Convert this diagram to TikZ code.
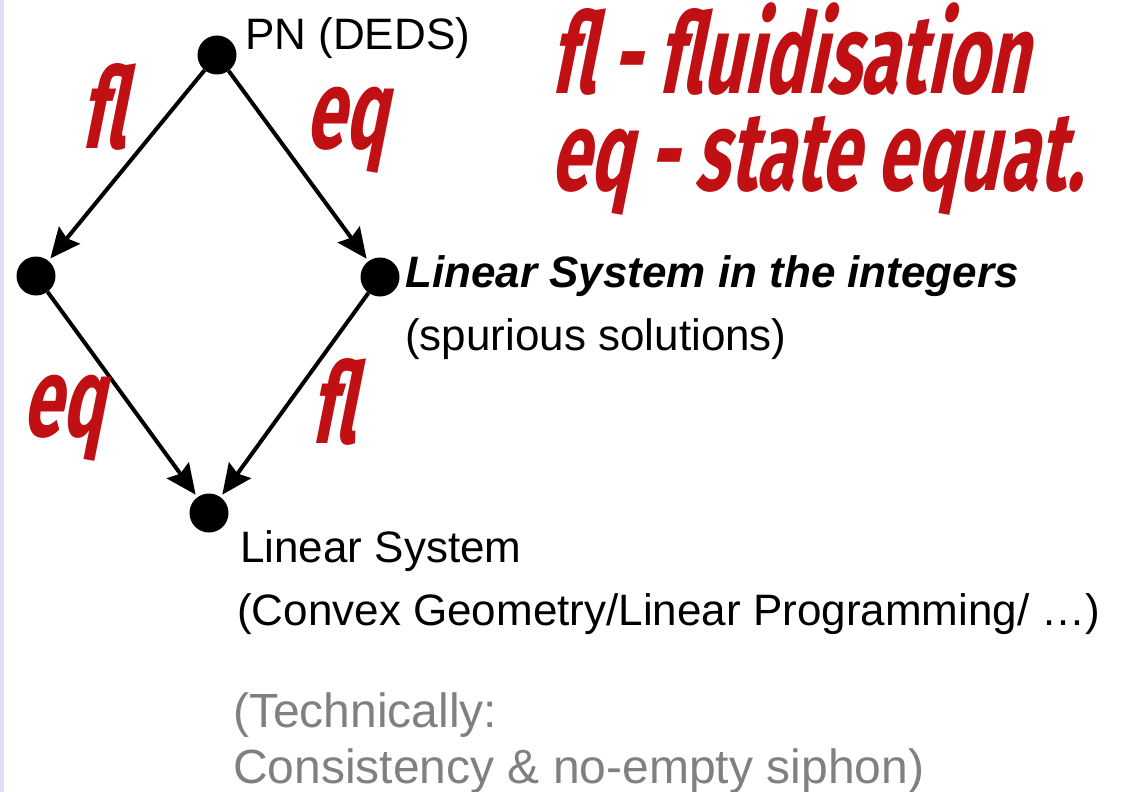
\documentclass[tikz,border=0pt]{standalone}
\usepackage{fontspec}
\setmainfont{Liberation Sans}
\newfontfamily\redfont[FakeStretch=0.635,FakeSlant=0.2]{Fira Sans}
\usetikzlibrary{arrows.meta}
\definecolor{flred}{RGB}{192,16,20}
\definecolor{sidebar}{RGB}{220,222,245}
\definecolor{notegray}{RGB}{128,128,128}

\begin{document}
\begin{tikzpicture}[x=1pt,y=-1pt,
    dot/.style={circle,fill=black,inner sep=0pt,minimum size=39pt},
    arr/.style={-{Stealth[length=30pt,width=27pt,inset=4pt]},line width=4pt,shorten >=3pt},
    lbl/.style={font=\redfont\bfseries\fontsize{112}{97}\selectfont,text=flred,inner sep=0pt,anchor=base west},
    txt/.style={font=\fontsize{44}{50}\selectfont,inner sep=0pt,anchor=base west},
    note/.style={font=\fontsize{48}{56}\selectfont,text=notegray,inner sep=0pt,anchor=base west}]
    % frame
    \useasboundingbox (0,0) rectangle (1122,792);
    \fill[sidebar] (0,0) rectangle (4,792);

    % points
    \node[dot] (pn) at (217,55) {};
    \node[dot] (fluid) at (36,276) {};
    \node[dot] (lsint) at (380,277) {};
    \node[dot] (ls) at (209,513) {};

    % arrows
    \draw[arr] (pn) -- (fluid);
    \draw[arr] (pn) -- (lsint);
    \draw[arr] (fluid) -- (ls);
    \draw[arr] (lsint) -- (ls);

    % arrow labels
    \node[lbl] (fl1) at (80,148) {fl};
    \node[lbl] (eq1) at (305,148) {eq};
    \node[lbl] (eq2) at (22,436) {eq};
    \node[lbl] (fl2) at (310,443) {fl};

    % legend
    \node[lbl,align=left] (legend) at (550,190) {fl - fluidisation\\eq - state equat.};

    % texts
    \node[txt] (pntxt) at (245,50) {PN (DEDS)};
    \node[txt,font=\fontsize{44}{50}\selectfont\bfseries\itshape] (linint) at (405,287) {Linear System in the integers};
    \node[txt] (spur) at (405,350) {(spurious solutions)};
    \node[txt] (lin) at (240,562) {Linear System};
    \node[txt] (convex) at (237,625) {(Convex Geometry/Linear Programming/ \dots)};
    \node[note] (tech) at (233,727) {(Technically:};
    \node[note] (cons) at (233,783) {Consistency \& no-empty siphon)};
\end{tikzpicture}
\end{document}
